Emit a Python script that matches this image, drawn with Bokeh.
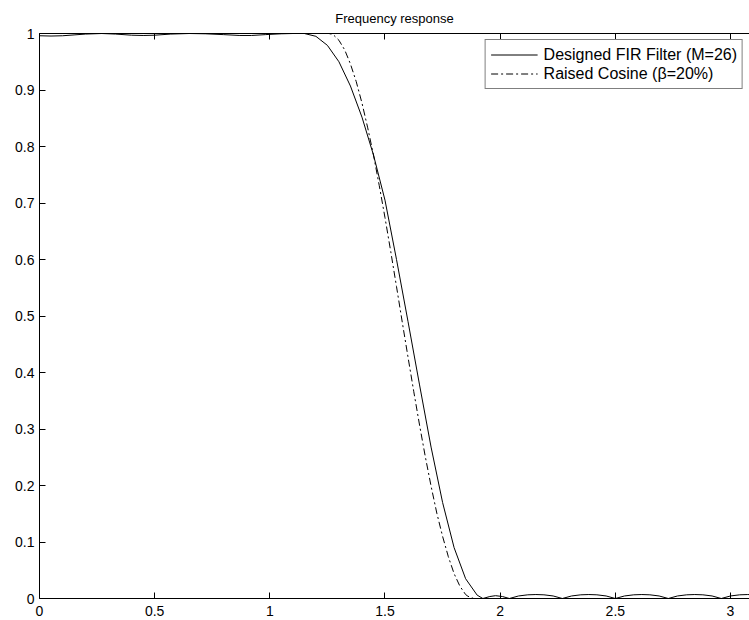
from bokeh.plotting import figure
from bokeh.models import Range1d, LinearAxis, FixedTicker, Legend, LegendItem, ColumnDataSource
from bokeh.embed import file_html
from bokeh.resources import INLINE

# Designed FIR filter (M=26) magnitude response
fir_w = [0.00, 0.05, 0.10, 0.15, 0.20, 0.27, 0.33, 0.40, 0.45, 0.50, 0.57, 0.65, 0.72,
         0.80, 0.87, 0.92, 0.98, 1.05, 1.10, 1.15, 1.20, 1.25, 1.30, 1.35, 1.40, 1.45,
         1.50, 1.55, 1.60, 1.65, 1.70, 1.75, 1.80, 1.85, 1.90, 1.925,
         1.955, 1.98, 2.01, 2.04,
         2.08, 2.12, 2.155, 2.19, 2.23, 2.27,
         2.31, 2.35, 2.385, 2.42, 2.46, 2.50,
         2.54, 2.58, 2.615, 2.65, 2.69, 2.73,
         2.77, 2.81, 2.845, 2.88, 2.92, 2.96,
         3.00, 3.04, 3.075, 3.11, 3.1416]
fir_h = [0.996, 0.9955, 0.996, 0.9975, 0.999, 1.0, 0.999, 0.997, 0.9965, 0.997, 0.999, 1.0, 0.9995,
         0.998, 0.9965, 0.9965, 0.998, 0.9995, 1.0, 1.0, 0.995, 0.979, 0.950, 0.907, 0.852, 0.785,
         0.705, 0.600, 0.490, 0.378, 0.268, 0.170, 0.090, 0.035, 0.006, 0.0,
         0.0035, 0.005, 0.0035, 0.0,
         0.0045, 0.0065, 0.007, 0.0065, 0.0045, 0.0,
         0.0045, 0.0065, 0.007, 0.0065, 0.0045, 0.0,
         0.0045, 0.0065, 0.007, 0.0065, 0.0045, 0.0,
         0.0045, 0.0065, 0.007, 0.0065, 0.0045, 0.0,
         0.0045, 0.0065, 0.007, 0.0065, 0.005]

# Raised cosine (beta = 20%) reference response
rc_w = [0.00, 1.257, 1.275, 1.30, 1.325, 1.35, 1.375, 1.40, 1.425, 1.45, 1.475, 1.50, 1.525,
        1.55, 1.575, 1.60, 1.625, 1.65, 1.675, 1.70, 1.725, 1.75, 1.775, 1.80, 1.825,
        1.85, 1.86, 1.885, 3.1416]
rc_h = [1.0, 1.0, 0.998, 0.988, 0.971, 0.946, 0.915, 0.877, 0.833, 0.785, 0.731, 0.674, 0.614,
        0.552, 0.489, 0.427, 0.366, 0.307, 0.251, 0.199, 0.151, 0.110, 0.074, 0.044, 0.022,
        0.007, 0.004, 0.0, 0.0]

x_ticks = [0, 0.5, 1, 1.5, 2, 2.5, 3]
x_labels = ["0", "0.5", "1", "1.5", "2", "2.5", "3"]
y_ticks = [0, 0.1, 0.2, 0.3, 0.4, 0.5, 0.6, 0.7, 0.8, 0.9, 1]
y_labels = ["0", "0.1", "0.2", "0.3", "0.4", "0.5", "0.6", "0.7", "0.8", "0.9", "1"]

series_names = ["Designed FIR Filter (M=26)", "Raised Cosine (\u03b2=20%)"]

FONT = "Liberation Sans"

p = figure(width=749, height=620, output_backend="svg", toolbar_location=None,
           x_range=Range1d(0, 3.0825), y_range=Range1d(0, 1),
           title="Frequency response")
p.min_border_left = 39
p.min_border_right = 0
p.min_border_top = 33
p.min_border_bottom = 22
p.outline_line_color = None
p.xgrid.grid_line_color = None
p.ygrid.grid_line_color = None
p.background_fill_color = "white"
p.border_fill_color = "white"

p.title.align = "center"
p.title.vertical_align = "top"
p.title.text_font = FONT
p.title.text_font_size = "13px"
p.title.text_font_style = "normal"
p.title.text_color = "black"
p.title.standoff = 12

def style_axis(ax, ticks, labels, show_labels=True, standoff=5):
    ax.ticker = FixedTicker(ticks=ticks)
    ax.major_label_overrides = {t: l for t, l in zip(ticks, labels)}
    ax.major_tick_in = 6
    ax.major_tick_out = 0
    ax.minor_tick_in = 0
    ax.minor_tick_out = 0
    ax.axis_line_color = "black"
    ax.axis_line_width = 1
    ax.major_tick_line_color = "black"
    ax.major_label_text_font = FONT
    ax.major_label_text_font_size = "14px" if show_labels else "0px"
    ax.major_label_text_color = "black"
    ax.major_label_standoff = standoff if show_labels else 0

style_axis(p.xaxis[0], x_ticks, x_labels, standoff=7)
style_axis(p.yaxis[0], y_ticks, y_labels, standoff=5)

top_axis = LinearAxis()
style_axis(top_axis, x_ticks, [""] * len(x_ticks), show_labels=False)
top_axis.major_label_text_color = None
p.add_layout(top_axis, "above")

src_fir = ColumnDataSource(dict(w=fir_w, h=fir_h))
src_rc = ColumnDataSource(dict(w=rc_w, h=rc_h))

r_fir = p.line("w", "h", source=src_fir, line_color="black", line_width=1)
r_rc = p.line("w", "h", source=src_rc, line_color="black", line_width=1, line_dash="7 3 2 3")

legend = Legend(items=[LegendItem(label=series_names[0], renderers=[r_fir]),
                       LegendItem(label=series_names[1], renderers=[r_rc])],
                location="top_right")
legend.margin = 6
legend.padding = 5
legend.spacing = 0
legend.glyph_width = 47
legend.glyph_height = 19
legend.label_height = 19
legend.label_standoff = 6
legend.label_text_font = FONT
legend.label_text_font_size = "16px"
legend.label_text_color = "black"
legend.border_line_color = "black"
legend.border_line_width = 1
legend.background_fill_color = "white"
legend.background_fill_alpha = 1.0
p.add_layout(legend, "center")

open("out.html", "w").write(file_html(p, INLINE))
